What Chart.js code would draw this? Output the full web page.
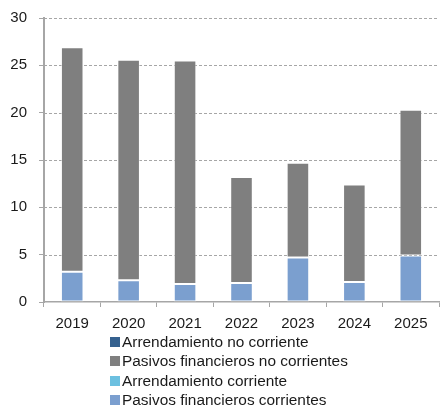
<!DOCTYPE html>
<html>
<head>
<meta charset="utf-8">
<script src="https://cdn.jsdelivr.net/npm/chart.js@4"></script>
<style>
  body { margin: 0; background: #fff; overflow: hidden; }
  #wrap { position: relative; width: 440px; height: 407px; overflow: hidden; font-family: "Liberation Sans", Arial, sans-serif; }
  #box { position: absolute; left: 0; top: -3px; width: 440px; height: 344px; }
  #legend { position: absolute; left: 110px; top: 332px; margin: 0; padding: 0; list-style: none; font-size: 15.4px; color: #1a1a1a; }
  #legend li { display: flex; align-items: center; height: 19.5px; white-space: nowrap; }
  #legend span { display: inline-block; width: 10px; height: 10px; margin-right: 2px; }
</style>
</head>
<body>
<div id="wrap">
  <div id="box"><canvas id="deuda"></canvas></div>
  <ul id="legend"></ul>
</div>
<script>
const years = ['2019', '2020', '2021', '2022', '2023', '2024', '2025'];
const yTicks = [0, 5, 10, 15, 20, 25, 30];

// apilado de abajo hacia arriba
const pasivosCorrientes = [3.2, 2.3, 1.9, 2.0, 4.7, 2.1, 4.9];
const arrendCorriente = [0, 0, 0, 0, 0, 0, 0];
const pasivosNoCorrientes = [23.7, 23.3, 23.6, 11.2, 10.0, 10.3, 15.4];
const arrendNoCorriente = [0, 0, 0, 0, 0, 0, 0];

const font = { family: '"Liberation Sans", Arial, sans-serif', size: 15 };

function serie(label, data, color) {
    return {
        label: label,
        data: data,
        backgroundColor: color,
        borderColor: 'rgba(255,255,255,0.55)',
        borderWidth: data.some(v => v > 0) ? 1 : 0,
        borderSkipped: false,
        barPercentage: 0.4,
        categoryPercentage: 1
    };
}

const datasets = [
    serie('Pasivos financieros corrientes', pasivosCorrientes, '#7b9fcf'),
    serie('Arrendamiento corriente', arrendCorriente, '#6cc0e0'),
    serie('Pasivos financieros no corrientes', pasivosNoCorrientes, '#7f7f7f'),
    serie('Arrendamiento no corriente', arrendNoCorriente, '#35618f')
];

const ctx = document.getElementById('deuda').getContext('2d');
new Chart(ctx, {
    type: 'bar',
    data: { labels: years, datasets: datasets },
    options: {
        responsive: true,
        maintainAspectRatio: false,
        animation: false,
        layout: { padding: { top: 11, right: 1, left: 0, bottom: 0 } },
        plugins: {
            legend: { display: false },
            tooltip: { enabled: false }
        },
        scales: {
            x: {
                stacked: true,
                border: { color: '#a6a6a6', width: 1.5 },
                grid: {
                    offset: true,
                    drawOnChartArea: false,
                    color: '#a6a6a6',
                    tickLength: 5
                },
                ticks: { font: font, color: '#1a1a1a', padding: 8, maxRotation: 0 }
            },
            y: {
                stacked: true,
                min: 0,
                max: 30,
                afterFit: scale => { scale.width = 44; },
                afterBuildTicks: scale => { scale.ticks = yTicks.map(v => ({ value: v })); },
                border: { color: '#a6a6a6', width: 2, dash: [] },
                grid: {
                    color: '#a6a6a6',
                    lineWidth: 1,
                    tickLength: 5,
                    tickColor: '#a6a6a6',
                    tickBorderDash: [],
                    drawOnChartArea: false
                },
                ticks: { font: font, color: '#1a1a1a', padding: 12 }
            }
        }
    },
    plugins: [{
        // rejilla discontinua dentro del área del gráfico
        id: 'rejilla',
        beforeDatasetsDraw(chart) {
            const c = chart.ctx, a = chart.chartArea, y = chart.scales.y;
            c.save();
            c.strokeStyle = '#a6a6a6';
            c.lineWidth = 1;
            c.setLineDash([3, 2]);
            yTicks.filter(v => v > 0).forEach(v => {
                const py = Math.round(y.getPixelForValue(v)) + 0.5;
                c.beginPath();
                c.moveTo(a.left, py);
                c.lineTo(a.right, py);
                c.stroke();
            });
            c.restore();
        }
    }]
});

// leyenda en columna, en orden inverso al apilado
const legend = document.getElementById('legend');
datasets.slice().reverse().forEach(ds => {
    const li = document.createElement('li');
    li.innerHTML = `<span style="background:${ds.backgroundColor}"></span>${ds.label}`;
    legend.appendChild(li);
});
</script>
</body>
</html>
